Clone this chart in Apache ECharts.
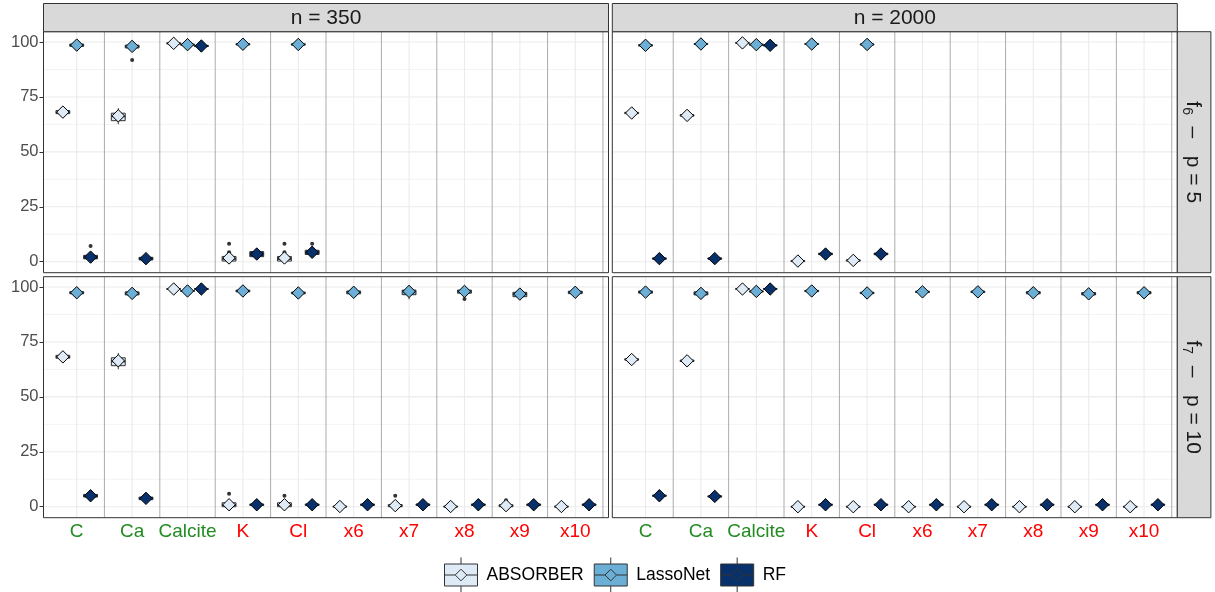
<!DOCTYPE html>
<html><head><meta charset="utf-8">
<script src="https://cdn.jsdelivr.net/npm/echarts@6/dist/echarts.min.js"></script>
<style>html,body{margin:0;padding:0;background:#fff}#chart{width:1215px;height:592px}</style>
</head><body><div id="chart"></div>
<script>
// ---------- labels ----------
const categories = ['C', 'Ca', 'Calcite', 'K', 'Cl', 'x6', 'x7', 'x8', 'x9', 'x10'];
const categoryKind = ['rel', 'rel', 'rel', 'irr', 'irr', 'irr', 'irr', 'irr', 'irr', 'irr'];
const methods = ['ABSORBER', 'LassoNet', 'RF'];
const methodColors = ['#DEEBF7', '#6BAED6', '#08306B'];
const columnLabels = ['n = 350', 'n = 2000'];
const rowFunctions = ['f', 'f'];
const rowSubscripts = ['6', '7'];
const rowSettings = ['  \u2013   p = 5', '  \u2013   p = 10'];
const yTicks = [0, 25, 50, 75, 100];
const yMinorTicks = [12.5, 37.5, 62.5, 87.5];
const xCenters = [1, 2, 3, 4, 5, 6, 7, 8, 9, 10];
const xDividers = [1.5, 2.5, 3.5, 4.5, 5.5, 6.5, 7.5, 8.5, 9.5, 10.5];

// ---------- n = 350, f6 - p = 5 ----------
const n350_p5_ABSORBER_mean = [68.1, 66.4, 99.4, 1.7, 1.7];
const n350_p5_ABSORBER_box = [[66.6,67.4,68.0,68.8,69.6],[62.6,64.2,66.2,67.6,69.9],[98.9,99.2,99.4,99.6,99.9],[0,0.3,1.3,2.4,2.8],[0,0.3,1.3,2.4,2.8]];
const n350_p5_ABSORBER_out = [[],[],[],[4.3,8.2],[4.3,8.2]];
const n350_p5_LassoNet_mean = [98.6, 98.0, 98.8, 99.0, 98.9];
const n350_p5_LassoNet_box = [[97.5,98.0,98.6,99.1,99.6],[96.4,97.3,98.0,98.6,99.5],[98.3,98.6,98.8,99.0,99.3],[98.4,98.7,99.0,99.3,99.7],[98.3,98.6,98.9,99.2,99.6]];
const n350_p5_LassoNet_out = [[],[91.8],[],[],[]];
const n350_p5_RF_mean = [2.1, 1.4, 98.2, 3.5, 4.3];
const n350_p5_RF_box = [[0.5,1.3,2.0,2.9,4.4],[0.3,0.8,1.4,2.0,2.7],[97.7,97.9,98.2,98.5,98.8],[1.3,2.3,3.5,4.6,5.9],[2.1,3.3,4.2,5.2,6.5]];
const n350_p5_RF_out = [[7.2],[],[],[],[8.2]];

// ---------- n = 2000, f6 - p = 5 ----------
const n2000_p5_ABSORBER_mean = [67.7, 66.6, 99.6, 0.3, 0.6];
const n2000_p5_ABSORBER_box = [[67.1,67.4,67.7,68.0,68.3],[66.0,66.3,66.6,66.9,67.2],[99.3,99.5,99.6,99.7,99.9],[0,0.1,0.3,0.5,0.8],[0.1,0.3,0.6,0.8,1.1]];
const n2000_p5_ABSORBER_out = [[],[],[],[],[]];
const n2000_p5_LassoNet_mean = [98.5, 99.1, 98.8, 99.1, 98.9];
const n2000_p5_LassoNet_box = [[97.9,98.2,98.5,98.8,99.1],[98.6,98.9,99.1,99.3,99.6],[98.4,98.6,98.8,99.0,99.2],[98.6,98.9,99.1,99.3,99.6],[98.4,98.7,98.9,99.1,99.4]];
const n2000_p5_LassoNet_out = [[],[],[],[],[]];
const n2000_p5_RF_mean = [1.4, 1.4, 98.5, 3.5, 3.5];
const n2000_p5_RF_box = [[0.9,1.2,1.4,1.7,2.0],[0.9,1.2,1.4,1.7,2.0],[98.1,98.3,98.5,98.7,98.9],[2.8,3.2,3.5,3.9,4.3],[2.8,3.2,3.5,3.9,4.3]];
const n2000_p5_RF_out = [[],[],[],[],[]];

// ---------- n = 350, f7 - p = 10 ----------
const n350_p10_ABSORBER_mean = [68.2, 66.4, 99.1, 0.9, 0.9, 0.1, 0.5, 0.1, 0.5, 0.1];
const n350_p10_ABSORBER_box = [[66.8,67.6,68.2,68.9,69.6],[62.6,64.2,66.2,67.8,70.0],[98.7,98.9,99.1,99.3,99.6],[0,0,0.8,1.8,3.6],[0,0,0.8,1.8,3.4],[0,0,0,0.2,0.5],[0,0,0.4,1.0,1.8],[0,0,0,0.2,0.5],[0,0,0.4,0.9,1.6],[0,0,0,0.2,0.5]];
const n350_p10_ABSORBER_out = [[],[],[],[5.9],[5.0],[],[5.0],[],[2.9],[]];
const n350_p10_LassoNet_mean = [97.4, 97.1, 98.2, 98.2, 97.3, 97.6, 98.0, 98.0, 96.8, 97.6];
const n350_p10_LassoNet_box = [[96.4,96.9,97.4,97.9,98.4],[94.8,96.4,97.1,97.8,98.8],[97.7,98.0,98.2,98.4,98.7],[97.3,97.8,98.2,98.6,99.1],[96.5,96.9,97.3,97.7,98.1],[96.3,96.9,97.6,98.2,98.8],[94.4,96.5,98.0,98.6,99.4],[96.0,97.2,98.0,98.6,99.3],[94.6,95.6,96.8,97.6,98.6],[96.5,97.0,97.6,98.1,98.6]];
const n350_p10_LassoNet_out = [[],[],[],[],[],[],[],[94.6],[],[]];
const n350_p10_RF_mean = [5.0, 3.8, 99.1, 0.9, 0.9, 0.9, 0.9, 0.9, 0.9, 0.9];
const n350_p10_RF_box = [[3.8,4.4,5.0,5.6,6.2],[2.6,3.2,3.8,4.4,5.0],[98.6,98.9,99.1,99.3,99.6],[0.3,0.6,0.9,1.2,1.5],[0.3,0.6,0.9,1.2,1.5],[0.3,0.6,0.9,1.2,1.5],[0.3,0.6,0.9,1.2,1.5],[0.3,0.6,0.9,1.2,1.5],[0.3,0.6,0.9,1.2,1.5],[0.3,0.6,0.9,1.2,1.5]];
const n350_p10_RF_out = [[],[],[],[],[],[],[],[],[],[]];

// ---------- n = 2000, f7 - p = 10 ----------
const n2000_p10_ABSORBER_mean = [67.0, 66.4, 99.1, 0, 0, 0, 0, 0, 0, 0];
const n2000_p10_ABSORBER_box = [[66.5,66.8,67.0,67.3,67.6],[65.8,66.1,66.4,66.7,67.0],[98.8,99.0,99.1,99.3,99.5],[0,0,0,0.1,0.3],[0,0,0,0.1,0.3],[0,0,0,0.1,0.3],[0,0,0,0.1,0.3],[0,0,0,0.1,0.3],[0,0,0,0.1,0.3],[0,0,0,0.1,0.3]];
const n2000_p10_ABSORBER_out = [[],[],[],[],[],[],[],[],[],[]];
const n2000_p10_LassoNet_mean = [97.7, 97.1, 98.0, 98.2, 97.3, 97.8, 97.8, 97.4, 96.9, 97.4];
const n2000_p10_LassoNet_box = [[95.4,97.2,97.7,98.2,98.8],[95.6,96.4,97.1,97.8,98.4],[97.5,97.8,98.0,98.2,98.5],[97.6,97.9,98.2,98.5,98.8],[96.7,97.0,97.3,97.6,97.9],[97.2,97.5,97.8,98.1,98.4],[97.2,97.5,97.8,98.1,98.4],[96.6,96.9,97.4,97.9,98.2],[95.8,96.4,96.9,97.5,98.0],[96.6,96.9,97.4,97.9,98.2]];
const n2000_p10_LassoNet_out = [[],[],[],[],[],[],[],[],[],[]];
const n2000_p10_RF_mean = [5.0, 4.7, 99.1, 0.9, 0.9, 0.9, 0.9, 0.9, 0.9, 0.9];
const n2000_p10_RF_box = [[4.5,4.8,5.0,5.2,5.5],[4.2,4.5,4.7,4.9,5.2],[98.8,99.0,99.1,99.3,99.5],[0.5,0.7,0.9,1.1,1.3],[0.5,0.7,0.9,1.1,1.3],[0.5,0.7,0.9,1.1,1.3],[0.5,0.7,0.9,1.1,1.3],[0.5,0.7,0.9,1.1,1.3],[0.5,0.7,0.9,1.1,1.3],[0.5,0.7,0.9,1.1,1.3]];
const n2000_p10_RF_out = [[],[],[],[],[],[],[],[],[],[]];

// ---------- assemble ----------
const panelData = [
  { ABSORBER: [n350_p5_ABSORBER_mean, n350_p5_ABSORBER_box, n350_p5_ABSORBER_out],
    LassoNet: [n350_p5_LassoNet_mean, n350_p5_LassoNet_box, n350_p5_LassoNet_out],
    RF: [n350_p5_RF_mean, n350_p5_RF_box, n350_p5_RF_out] },
  { ABSORBER: [n2000_p5_ABSORBER_mean, n2000_p5_ABSORBER_box, n2000_p5_ABSORBER_out],
    LassoNet: [n2000_p5_LassoNet_mean, n2000_p5_LassoNet_box, n2000_p5_LassoNet_out],
    RF: [n2000_p5_RF_mean, n2000_p5_RF_box, n2000_p5_RF_out] },
  { ABSORBER: [n350_p10_ABSORBER_mean, n350_p10_ABSORBER_box, n350_p10_ABSORBER_out],
    LassoNet: [n350_p10_LassoNet_mean, n350_p10_LassoNet_box, n350_p10_LassoNet_out],
    RF: [n350_p10_RF_mean, n350_p10_RF_box, n350_p10_RF_out] },
  { ABSORBER: [n2000_p10_ABSORBER_mean, n2000_p10_ABSORBER_box, n2000_p10_ABSORBER_out],
    LassoNet: [n2000_p10_LassoNet_mean, n2000_p10_LassoNet_box, n2000_p10_LassoNet_out],
    RF: [n2000_p10_RF_mean, n2000_p10_RF_box, n2000_p10_RF_out] }
];

const FONT = '"Liberation Sans", Arial, Helvetica, sans-serif';
const colX = [43.5, 612.3];
const panelW = 565;
const rowY = [31.7, 276.7];
const panelH = 241;
const stripTop = 3.5;
const stripRightX = 1177.3;
const stripRightW = 33.6;
const dodge = [-0.25, 0, 0.25];
const boxWidth = 0.25;

const grids = [], xAxes = [], yAxes = [], series = [], graphics = [];

for (let g = 0; g < 4; g++) {
  const col = g % 2, row = Math.floor(g / 2);
  grids.push({ left: colX[col], top: rowY[row], width: panelW, height: panelH,
               show: true, backgroundColor: '#FFFFFF', borderWidth: 0 });
  xAxes.push({
    gridIndex: g, type: 'value', min: 0.4, max: 10.6,
    axisLine: { show: false }, axisTick: { show: false }, splitLine: { show: false },
    axisLabel: row === 1 ? {
      show: true, customValues: xCenters, margin: 5, hideOverlap: false,
      formatter: v => { const i = Math.round(v) - 1; return '{' + categoryKind[i] + '|' + categories[i] + '}'; },
      rich: { rel: { color: '#228B22', fontSize: 19, fontFamily: FONT },
              irr: { color: '#FF0000', fontSize: 19, fontFamily: FONT } }
    } : { show: false }
  });
  yAxes.push({
    gridIndex: g, type: 'value', min: -5, max: 104.7,
    axisLine: { show: false }, splitLine: { show: false },
    axisTick: col === 0 ? { show: true, customValues: yTicks, length: 4, lineStyle: { color: '#333333', width: 1 } } : { show: false },
    axisLabel: col === 0 ? { show: true, customValues: yTicks, color: '#4D4D4D', fontSize: 16.5, fontFamily: FONT, margin: 5 } : { show: false }
  });

  // grid lines
  const gl = [];
  yMinorTicks.forEach(v => gl.push([1, v, 1]));
  yTicks.forEach(v => gl.push([1, v, 0]));
  xCenters.forEach(v => gl.push([v, 50, 2]));
  xDividers.forEach(v => gl.push([v, 50, 3]));
  series.push({
    type: 'custom', xAxisIndex: g, yAxisIndex: g, silent: true, z: 1, clip: true,
    encode: { x: 0, y: 1 }, data: gl,
    renderItem: (params, api) => {
      const cs = params.coordSys;
      const kind = api.value(2);
      if (kind <= 1) {
        const y = api.coord([1, api.value(1)])[1];
        return { type: 'line', shape: { x1: cs.x, y1: y, x2: cs.x + cs.width, y2: y },
                 style: { stroke: '#EBEBEB', lineWidth: kind === 0 ? 1.1 : 0.6 } };
      }
      const x = api.coord([api.value(0), 0])[0];
      return { type: 'line', shape: { x1: x, y1: cs.y, x2: x, y2: cs.y + cs.height },
               style: { stroke: kind === 2 ? '#EBEBEB' : '#A3A3A3', lineWidth: kind === 2 ? 1.1 : 0.9 } };
    }
  });

  // boxes + mean diamonds
  methods.forEach((m, mi) => {
    const [means, boxes, outs] = panelData[g][m];
    const data = means.map((mean, i) => [i + 1].concat(boxes[i], [mean]));
    const off = dodge[mi], color = methodColors[mi];
    series.push({
      type: 'custom', name: m, xAxisIndex: g, yAxisIndex: g, z: 2,
      itemStyle: { color: color, borderColor: '#333333' },
      encode: { x: 0, y: [1, 2, 3, 4, 5, 6] }, data: data,
      renderItem: (params, api) => {
        const x = api.value(0) + off;
        const pMin = api.coord([x, api.value(1)]);
        const pQ1 = api.coord([x, api.value(2)]);
        const pMed = api.coord([x, api.value(3)]);
        const pQ3 = api.coord([x, api.value(4)]);
        const pMax = api.coord([x, api.value(5)]);
        const pMean = api.coord([x, api.value(6)]);
        const hw = api.size([boxWidth, 0])[0] / 2;
        const d = 6.2;
        const children = [
          { type: 'line', shape: { x1: pMin[0], y1: pMin[1], x2: pQ1[0], y2: pQ1[1] }, style: { stroke: '#333333', lineWidth: 1 } },
          { type: 'line', shape: { x1: pQ3[0], y1: pQ3[1], x2: pMax[0], y2: pMax[1] }, style: { stroke: '#333333', lineWidth: 1 } },
          { type: 'rect', shape: { x: pQ3[0] - hw, y: pQ3[1], width: 2 * hw, height: Math.max(pQ1[1] - pQ3[1], 0.5) },
            style: { fill: color, stroke: '#333333', lineWidth: 1 } },
          { type: 'line', shape: { x1: pMed[0] - hw, y1: pMed[1], x2: pMed[0] + hw, y2: pMed[1] }, style: { stroke: '#333333', lineWidth: 2 } }
        ];
        (outs[params.dataIndex] || []).forEach(v => {
          const p = api.coord([x, v]);
          children.push({ type: 'circle', shape: { cx: p[0], cy: p[1], r: 2 }, style: { fill: '#333333' } });
        });
        children.push({ type: 'polygon',
          shape: { points: [[pMean[0], pMean[1] - d], [pMean[0] + d, pMean[1]], [pMean[0], pMean[1] + d], [pMean[0] - d, pMean[1]]] },
          style: { fill: color, stroke: '#000000', lineWidth: 1 } });
        return { type: 'group', children: children };
      }
    });
  });

  // panel border
  graphics.push({ type: 'rect', z: 100, silent: true,
    shape: { x: colX[col], y: rowY[row], width: panelW, height: panelH },
    style: { fill: 'none', stroke: '#333333', lineWidth: 1 } });
}

// column strips
for (let c = 0; c < 2; c++) {
  graphics.push({ type: 'rect', z: 100, silent: true,
    shape: { x: colX[c], y: stripTop, width: panelW, height: rowY[0] - stripTop },
    style: { fill: '#D9D9D9', stroke: '#333333', lineWidth: 1 } });
  graphics.push({ type: 'text', z: 101, silent: true,
    x: colX[c] + panelW / 2, y: (stripTop + rowY[0]) / 2 + 0.5,
    style: { text: columnLabels[c], fill: '#1A1A1A', font: '21px ' + FONT,
             align: 'center', verticalAlign: 'middle', textAlign: 'center', textVerticalAlign: 'middle' } });
}
// row strips
for (let r = 0; r < 2; r++) {
  graphics.push({ type: 'rect', z: 100, silent: true,
    shape: { x: stripRightX, y: rowY[r], width: stripRightW, height: panelH },
    style: { fill: '#D9D9D9', stroke: '#333333', lineWidth: 1 } });
  graphics.push({ type: 'text', z: 101, silent: true,
    x: stripRightX + stripRightW / 2 - 1, y: rowY[r] + panelH / 2, rotation: -Math.PI / 2,
    style: { text: '{m|' + rowFunctions[r] + '}{s|' + rowSubscripts[r] + '}{m|' + rowSettings[r] + '}',
             rich: { m: { fontSize: 21, fontFamily: FONT, fill: '#1A1A1A', lineHeight: 26, verticalAlign: 'middle' },
                     s: { fontSize: 14, fontFamily: FONT, fill: '#1A1A1A', lineHeight: 14, verticalAlign: 'bottom' } },
             fill: '#1A1A1A',
             align: 'center', verticalAlign: 'middle', textAlign: 'center', textVerticalAlign: 'middle' } });
}

const keyIcon = 'path://M0 6.5 L33 6.5 L33 28.5 L0 28.5 Z M16.5 0 L16.5 6.5 M16.5 28.5 L16.5 35 M0 17.5 L10.7 17.5 M22.3 17.5 L33 17.5 M16.5 11.7 L22.3 17.5 L16.5 23.3 L10.7 17.5 Z';

const chart = echarts.init(document.getElementById('chart'), null, { renderer: 'canvas' });
chart.setOption({
  animation: false,
  backgroundColor: '#FFFFFF',
  textStyle: { fontFamily: FONT },
  grid: grids, xAxis: xAxes, yAxis: yAxes, series: series,
  graphic: { elements: graphics },
  legend: {
    left: 444, top: 557, padding: 0, itemWidth: 33, itemHeight: 35, itemGap: 10,
    selectedMode: false,
    textStyle: { color: '#000000', fontSize: 17.5, fontFamily: FONT, padding: [0, 0, 0, 4] },
    data: methods.map((m, i) => ({ name: m, icon: keyIcon,
      itemStyle: { color: methodColors[i], borderColor: '#333333', borderWidth: 1 } }))
  }
});
</script></body></html>
